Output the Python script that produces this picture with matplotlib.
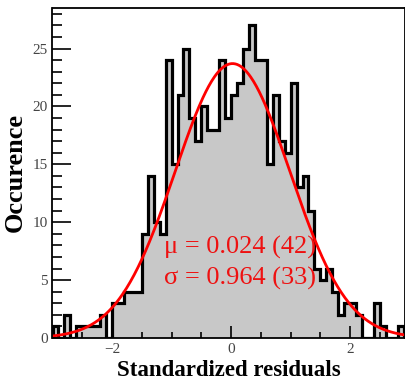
import numpy as np
import matplotlib
matplotlib.use("Agg")
import matplotlib.pyplot as plt
from matplotlib.ticker import MultipleLocator

# data
bin_start = -3.0
bin_width = 0.1
counts = [1, 0, 2, 0, 1, 1, 1, 1, 2, 0,
          3, 3, 4, 4, 4, 9, 14, 10, 9, 24,
          15, 21, 25, 19, 17, 20, 18, 18, 24, 19,
          21, 22, 25, 27, 24, 24, 15, 21, 17, 16,
          22, 13, 14, 11, 6, 5, 6, 4, 2, 3,
          3, 2, 0, 0, 3, 1, 0, 0, 1]
mu = 0.024
sigma = 0.964
amplitude = 23.7
label_mu = "μ = 0.024 (42)"
label_sigma = "σ = 0.964 (33)"
xlabel = "Standardized residuals"
ylabel = "Occurence"

counts = np.array(counts, dtype=float)
edges = bin_start + bin_width * np.arange(len(counts) + 1)

plt.rcParams['font.family'] = ['Liberation Serif', 'DejaVu Serif']
fig = plt.figure(figsize=(4.06, 3.80), dpi=100)
ax = fig.add_axes([52.5/406, 42/380, 353/406, 330/380])

ax.stairs(counts, edges, fill=True, color='#c8c8c8', zorder=1)
ax.stairs(counts, edges, color='black', linewidth=2.3, zorder=2)

xs = np.linspace(-3.2, 3.2, 400)
ax.plot(xs, amplitude * np.exp(-(xs - mu)**2 / (2 * sigma**2)),
        color='#ff0000', linewidth=2.0, zorder=3)

ax.text(-1.12, 7.3, label_mu, color='#ee1111', fontsize=19, zorder=4,
        va='baseline')
ax.text(-1.12, 4.6, label_sigma, color='#ee1111', fontsize=19, zorder=4,
        va='baseline')

ax.set_xlim(-3.0, 2.93)
ax.set_ylim(0, 28.5)
ax.xaxis.set_major_locator(MultipleLocator(2))
ax.xaxis.set_minor_locator(MultipleLocator(0.5))
ax.yaxis.set_major_locator(MultipleLocator(5))
ax.yaxis.set_minor_locator(MultipleLocator(1))
ax.tick_params(which='both', direction='in', top=False, right=False,
               labelsize=11, labelcolor='#444444', width=1.2, color='black')
ax.tick_params(which='major', length=9)
ax.tick_params(which='minor', length=4)
ax.tick_params(axis='y', which='major', length=14)
ax.tick_params(axis='y', which='minor', length=7)
for s in ax.spines.values():
    s.set_linewidth(1.3)
    s.set_zorder(5)

ax.set_xlabel(xlabel, fontsize=16.5, fontweight='bold', labelpad=3)
ax.set_ylabel(ylabel, fontsize=19, fontweight='bold', labelpad=4)

fig.savefig("out.png", dpi=100)
